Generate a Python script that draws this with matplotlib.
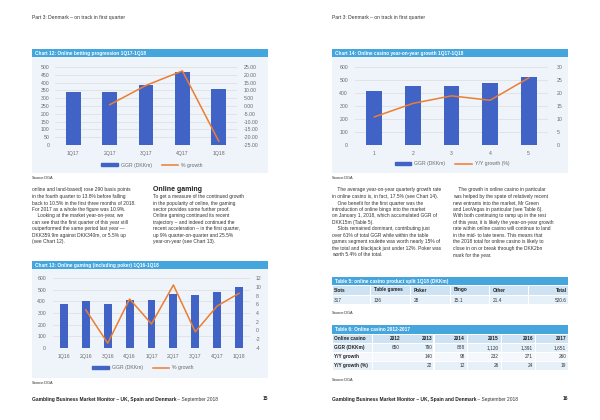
import numpy as np
import matplotlib
matplotlib.use('Agg')
import matplotlib.pyplot as plt
from matplotlib.patches import Rectangle, Patch
from matplotlib.lines import Line2D

plt.rcParams['font.family'] = ['Liberation Sans', 'DejaVu Sans']

W, H = 600, 420

# Chart 12 data
q12 = ['1Q17', '2Q17', '3Q17', '4Q17', '1Q18']
ggr12 = [340, 340, 385, 465, 360]
gr12 = [np.nan, 0.8, 13.2, 22.5, -22.6]

# Chart 13 data
q13 = ['1Q16', '2Q16', '3Q16', '4Q16', '1Q17', '2Q17', '3Q17', '4Q17', '1Q18']
ggr13 = [375, 400, 380, 410, 415, 460, 455, 480, 520]
gr13 = [np.nan, 4.7, -2.9, 7.2, 1.5, 10.4, -0.3, 5.6, 8.5]

# Chart 14 data
q14 = ['1', '2', '3', '4', '5']
ggr14 = [415, 455, 455, 478, 520]
gr14 = [10.8, 16.0, 18.9, 17.2, 25.8]

# Table 5
t5_cols = ['Slots', 'Table games', 'Poker', 'Bingo', 'Other', 'Total']
t5_vals = ['317', '136', '28', '15.1', '21.4', '520.6']

# Table 6
t6_cols = ['Online casino', '2012', '2013', '2014', '2015', '2016', '2017']
t6_rows = [
    ['GGR (DKKm)', '650', '790', '888', '1,120', '1,391', '1,651'],
    ['Y/Y growth', '', '140', '98', '232', '271', '260'],
    ['Y/Y growth (%)', '', '22', '12', '26', '24', '19'],
]

header = 'Part 3: Denmark \u2013 on track in first quarter'
footer_b = 'Gambling Business Market Monitor \u2013 UK, Spain and Denmark'
footer_r = ' \u2013 September 2018'

left_col1 = [
    'online and land-based) rose 290 basis points',
    'in the fourth quarter to 13.8% before falling',
    'back to 10.5% in the first three months of 2018.',
    'For 2017 as a whole the figure was 10.9%.',
    '    Looking at the market year-on-year, we',
    'can see that the first quarter of this year still',
    'outperformed the same period last year \u2014',
    'DKK359.9m against DKK340m, or 5.5% up',
    '(see Chart 12).',
]
left_col2 = [
    'To get a measure of the continued growth',
    'in the popularity of online, the gaming',
    'sector provides some further proof.',
    'Online gaming continued its recent',
    'trajectory \u2013 and indeed continued the',
    'recent acceleration \u2013 in the first quarter,',
    'up 9% quarter-on-quarter and 25.5%',
    'year-on-year (see Chart 13).',
]
right_col1 = [
    '    The average year-on-year quarterly growth rate',
    'in online casino is, in fact, 17.5% (see Chart 14).',
    '    One benefit for the first quarter was the',
    'introduction of online bingo into the market',
    'on January 1, 2018, which accumulated GGR of',
    'DKK15m (Table 5).',
    '    Slots remained dominant, contributing just',
    'over 61% of total GGR while within the table',
    'games segment roulette was worth nearly 15% of',
    'the total and blackjack just under 12%. Poker was',
    'worth 5.4% of the total.',
]
right_col2 = [
    '    The growth in online casino in particular',
    'was helped by the spate of relatively recent',
    'new entrants into the market, Mr Green',
    'and LeoVegas in particular (see Table 6).',
    'With both continuing to ramp up in the rest',
    'of this year, it is likely the year-on-year growth',
    'rate within online casino will continue to land',
    'in the mid- to late teens. This means that',
    'the 2018 total for online casino is likely to',
    'close in on or break through the DKK2bn',
    'mark for the year.',
]

BAR = '#4263c6'
LINE = '#ed7d31'
TITLE = '#45a5dd'
BG = '#eef4fa'
HEAD = '#cde2f3'
ROW = '#e6f0f9'
TXT = '#333333'
TICK = '#6b6b6b'
BODY = 3.55

fig = plt.figure(figsize=(6, 4.2), dpi=100)


def rect(x, y, w, h, color):
    fig.patches.append(Rectangle((x / W, 1 - (y + h) / H), w / W, h / H,
                                 transform=fig.transFigure, color=color,
                                 zorder=-5, lw=0))


def txt(x, y, s, size=BODY, **kw):
    kw.setdefault('color', TXT)
    return fig.text(x / W, 1 - y / H, s, fontsize=size, va='center', **kw)


def chart(x0, y0, x1, y1, cats, bars, line, width, lticks, rticks, rfmt,
          labels, leg_xy, lpad, rpad):
    ax = fig.add_axes([x0 / W, 1 - y1 / H, (x1 - x0) / W, (y1 - y0) / H])
    ax.set_facecolor('none')
    x = np.arange(len(cats))
    ax.bar(x, bars, width=width, color=BAR, zorder=2)
    ax.set_xlim(-0.5, len(cats) - 0.5)
    ax.set_ylim(lticks[0], lticks[-1])
    ax.set_yticks(lticks)
    ax.set_xticks(x)
    ax.set_xticklabels(cats)
    ax.grid(axis='y', color='#dcdcdc', lw=0.5, zorder=0)
    ax.set_axisbelow(True)
    for s in ax.spines.values():
        s.set_visible(False)
    ax.tick_params(length=0, labelsize=3.7, colors=TICK, pad=lpad)
    ax.tick_params(axis='x', pad=4)
    ax2 = ax.twinx()
    ax2.plot(x, line, color=LINE, lw=1.1, zorder=3)
    ax2.set_ylim(rticks[0], rticks[-1])
    ax2.set_yticks(rticks)
    ax2.set_yticklabels([rfmt.format(v) for v in rticks])
    for s in ax2.spines.values():
        s.set_visible(False)
    ax2.tick_params(length=0, labelsize=3.7, colors=TICK, pad=rpad)
    handles = [Patch(color=BAR, label=labels[0]),
               Line2D([], [], color=LINE, lw=1.1, label=labels[1])]
    fig.legend(handles=handles, loc='center',
               bbox_to_anchor=(leg_xy[0] / W, 1 - leg_xy[1] / H), ncol=2,
               frameon=False, fontsize=3.7, handlelength=3.2,
               handleheight=0.6, columnspacing=2.0, handletextpad=0.6,
               labelcolor=TICK)
    return ax


# ---- page headers / footers
for off, page in [(0, '15'), (300, '16')]:
    txt(32 + off, 17, header, 3.6)
    t = txt(32 + off, 399, footer_b, 3.5, fontweight='bold', color='#222222')
    txt(268 + off, 399, page, 3.5, fontweight='bold', ha='right',
        color='#222222')
    fig.canvas.draw()
    bb = t.get_window_extent()
    fig.text(bb.x1 / W, 1 - 399 / H, footer_r, fontsize=3.5,
             va='center', color=TXT)

# ---- Chart 12
rect(32, 49, 236, 8, TITLE)
txt(35, 53, 'Chart 12: Online betting progression 1Q17-1Q18', 3.4,
    color='white', fontweight='bold')
rect(32, 57, 236, 116, BG)
chart(55, 67, 237, 145, q12, ggr12, gr12, 0.41,
      list(range(0, 501, 50)), list(range(-25, 26, 5)), '{:.2f}',
      ['GGR (DKKm)', '% growth'], (152, 165), 4, 5)
txt(32, 178, 'Source:DGA', 2.8)

# ---- left page text
for i, s in enumerate(left_col1):
    txt(32, 190 + i * 6.5, s)
txt(153, 190, 'Online gaming', 5.0, fontweight='bold', color='#222222')
for i, s in enumerate(left_col2):
    txt(153, 196.5 + i * 6.5, s)

# ---- Chart 13
rect(32, 261, 236, 8, TITLE)
txt(35, 265, 'Chart 13: Online gaming (including poker) 1Q16-1Q18', 3.4,
    color='white', fontweight='bold')
rect(32, 269, 236, 109, BG)
chart(53, 278, 250, 348, q13, ggr13, gr13, 0.36,
      list(range(0, 601, 100)), list(range(-4, 13, 2)), '{}',
      ['GGR (DKKm)', '% growth'], (143, 368), 5, 4)
txt(32, 383, 'Source:DGA', 2.8)

# ---- Chart 14
rect(332, 49, 236, 8, TITLE)
txt(335, 53, 'Chart 14: Online casino year-on-year growth 1Q17-1Q18', 3.4,
    color='white', fontweight='bold')
rect(332, 57, 236, 116, BG)
chart(355, 67, 548, 145, q14, ggr14, gr14, 0.41,
      list(range(0, 601, 100)), list(range(0, 31, 5)), '{}',
      ['GGR (DKKm)', 'Y/Y growth (%)'], (452, 164), 5, 6)
txt(332, 178, 'Source:DGA', 2.8)

# ---- right page text
for i, s in enumerate(right_col1):
    txt(332, 190 + i * 6.5, s)
for i, s in enumerate(right_col2):
    txt(453, 190 + i * 6.5, s)

# ---- Table 5
rect(332, 277, 236, 8, TITLE)
txt(335, 281, 'Table 5: online casino product split 1Q18 (DKKm)', 3.4,
    color='white', fontweight='bold')
t5_x = [332, 372, 412, 452, 491, 568]
t5_edges = [332, 370, 410, 450, 489, 528, 568]
for i in range(6):
    x0 = t5_edges[i]
    x1 = t5_edges[i + 1]
    rect(x0 + 0.5, 286, x1 - x0 - 1, 8.5, HEAD)
    rect(x0 + 0.5, 295.5, x1 - x0 - 1, 8.5, ROW)
for i, (c, v) in enumerate(zip(t5_cols, t5_vals)):
    ha = 'right' if i == 5 else 'left'
    x = t5_x[i] - 1.5 if i == 5 else t5_x[i] + 1.5
    txt(x, 290, c, 3.4, fontweight='bold', ha=ha, color='#222222')
    txt(x, 300, v, 3.4, ha=ha)
txt(332, 313, 'Source:DGA', 2.8)

# ---- Table 6
rect(332, 325, 236, 9, TITLE)
txt(335, 329.5, 'Table 6: Online casino 2012-2017', 3.4,
    color='white', fontweight='bold')
t6_edges = [332, 372, 402, 434, 467, 501, 535, 568]
row_y = [334.5, 343.5, 352.5, 361.5]
row_c = [HEAD, ROW, '#f4f8fc', ROW]
for r, (yy, cc) in enumerate(zip(row_y, row_c)):
    for i in range(7):
        rect(t6_edges[i] + 0.5, yy, t6_edges[i + 1] - t6_edges[i] - 1, 8.5,
             cc)
for r, row in enumerate([t6_cols] + t6_rows):
    y = row_y[r] + 4.3
    for i, s in enumerate(row):
        if i == 0:
            txt(334, y, s, 3.4, fontweight='bold', color='#222222')
        else:
            txt(t6_edges[i + 1] - 2, y, s, 3.4, ha='right',
                fontweight='bold' if r == 0 else 'normal',
                color='#222222' if r == 0 else TXT)
txt(332, 380, 'Source:DGA', 2.8)

fig.savefig('out.png', dpi=100)
